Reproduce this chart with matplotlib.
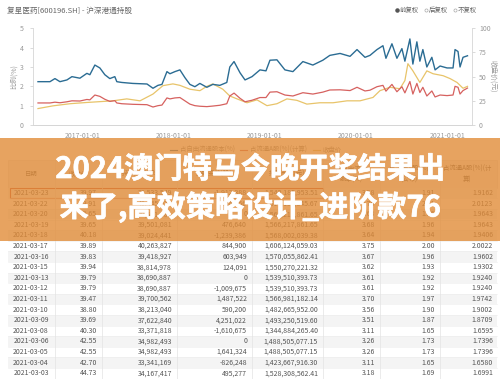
import matplotlib
matplotlib.use('Agg')
import matplotlib.pyplot as plt
import matplotlib.dates as mdates
import matplotlib.patheffects as pe
from matplotlib.patches import Rectangle
import pandas as pd

plt.rcParams['font.family'] = ['Noto Sans CJK SC', 'DejaVu Sans']

# ---- 图表数据（从截图估读） ----
TITLE = '复星医药[600196.SH] - 沪深港通持股'
ratio_dates = [
    '2016-07-05', '2016-08-22', '2016-09-11', '2016-10-01', '2016-10-29', '2016-11-18',
    '2016-12-20', '2017-01-17', '2017-01-29', '2017-02-18', '2017-03-10', '2017-03-30',
    '2017-04-19', '2017-05-09', '2017-05-17', '2017-06-06', '2017-07-20', '2017-09-15',
    '2017-10-09', '2017-10-29', '2017-11-14', '2017-12-04', '2017-12-16', '2018-01-05',
    '2018-01-25', '2018-02-14', '2018-03-06', '2018-03-26', '2018-04-15', '2018-05-13',
    '2018-06-06', '2018-07-04', '2018-08-01', '2018-08-13', '2018-08-30', '2018-09-23',
    '2018-10-13', '2018-11-10', '2018-12-12', '2019-01-05', '2019-01-21', '2019-02-18',
    '2019-03-22', '2019-04-23', '2019-06-02', '2019-07-12', '2019-08-21', '2019-09-18',
    '2019-10-29', '2019-12-08', '2020-01-05', '2020-02-06', '2020-02-26', '2020-03-25',
    '2020-04-18', '2020-04-30', '2020-05-24', '2020-06-13', '2020-07-03', '2020-07-15',
    '2020-08-04', '2020-08-16', '2020-09-01', '2020-09-13', '2020-09-25', '2020-10-11',
    '2020-10-31', '2020-11-13', '2020-12-03', '2020-12-31', '2021-01-24', '2021-02-01',
    '2021-02-13', '2021-02-21', '2021-03-05', '2021-03-23',
]
free_float_pct = [
    2.24, 2.24, 2.40, 2.24, 2.33, 2.50, 2.42, 2.67, 2.60, 3.10, 2.95, 2.60,
    2.40, 2.50, 2.24, 2.20, 2.15, 2.12, 1.90, 2.05, 2.10, 2.76, 2.65, 2.76,
    2.85, 2.45, 2.10, 1.98, 2.15, 1.95, 2.10, 2.05, 2.20, 3.00, 3.28, 2.70,
    2.33, 2.50, 2.85, 2.80, 3.35, 3.37, 2.85, 2.76, 3.28, 3.10, 3.35, 3.60,
    3.70, 3.55, 3.90, 3.50, 3.60, 3.90, 4.10, 3.45, 4.20, 3.45, 3.95, 3.30,
    4.45, 3.15, 4.30, 3.30, 3.90, 3.00, 3.50, 2.85, 3.05, 2.95, 2.95, 3.90,
    3.80, 3.00, 3.50, 3.58,
]
a_share_pct = [
    1.14, 1.14, 1.18, 1.15, 1.20, 1.25, 1.24, 1.32, 1.30, 1.55, 1.48, 1.33,
    1.22, 1.26, 1.14, 1.10, 1.07, 1.05, 0.93, 1.00, 1.03, 1.40, 1.35, 1.40,
    1.42, 1.25, 1.08, 1.00, 0.97, 0.95, 0.98, 1.02, 1.10, 1.50, 1.65, 1.38,
    1.20, 1.28, 1.42, 1.42, 1.70, 1.72, 1.55, 1.50, 1.67, 1.60, 1.70, 1.81,
    1.82, 1.78, 1.95, 1.76, 1.80, 1.98, 2.05, 1.75, 2.10, 1.72, 1.98, 1.66,
    2.25, 1.60, 2.15, 1.68, 1.95, 1.50, 1.76, 1.45, 1.55, 1.52, 1.55, 2.00,
    1.95, 1.60, 1.78, 1.91,
]
price_dates = [
    '2016-07-05', '2016-09-03', '2016-11-10', '2017-01-17', '2017-05-01', '2017-06-26',
    '2017-08-18', '2017-10-09', '2017-11-18', '2017-12-28', '2018-01-25', '2018-03-06',
    '2018-04-15', '2018-05-13', '2018-06-06', '2018-07-16', '2018-08-13', '2018-09-11',
    '2018-10-21', '2018-11-30', '2019-01-09', '2019-02-18', '2019-03-30', '2019-05-09',
    '2019-06-18', '2019-08-09', '2019-10-01', '2019-11-26', '2020-01-17', '2020-03-09',
    '2020-04-06', '2020-05-16', '2020-06-25', '2020-07-15', '2020-07-27', '2020-08-16',
    '2020-09-13', '2020-10-11', '2020-11-05', '2020-12-15', '2021-01-12', '2021-02-09',
    '2021-03-05', '2021-03-23',
]
close_price = [
    17.0, 19.8, 22.0, 23.3, 25.0, 27.0, 25.0, 32.0, 40.7, 42.5, 41.0, 37.0,
    35.5, 40.0, 42.5, 37.0, 30.0, 27.0, 23.0, 26.0, 20.0, 22.0, 27.0, 25.5,
    21.6, 23.0, 23.0, 25.0, 25.0, 28.5, 35.5, 39.0, 37.5, 46.0, 63.4, 56.0,
    44.0, 56.0, 53.0, 51.0, 48.0, 44.0, 38.0, 39.97,
]
x_ticks = ['2017-01-01', '2018-01-01', '2019-01-01', '2020-01-01', '2021-01-01']
series_names = ['占自由流通股本(%)', '占流通A股(%)(计算)', '收盘价']
series_colors = ['#2b6c93', '#d6615f', '#e8c46a']

# ---- 表格数据 ----
headers = ['日期', '收盘价', '持股数量(股)', '持股变动(股)', '持股市值(元)',
           '占自由流通\n股本(%)', '占流通A股(%)\n(公布)', '占流通A股(%)(计\n算)']
t_date = ['2021-03-23', '2021-03-22', '2021-03-20', '2021-03-19', '2021-03-18', '2021-03-17',
          '2021-03-16', '2021-03-15', '2021-03-13', '2021-03-12', '2021-03-11', '2021-03-10',
          '2021-03-09', '2021-03-08', '2021-03-06', '2021-03-05', '2021-03-04', '2021-03-03']
t_close = ['39.97', '39.91', '39.65', '39.65', '40.18', '39.89', '39.83', '39.94', '39.79',
           '39.79', '39.47', '38.80', '39.69', '40.30', '42.55', '42.55', '42.70', '44.73']
t_shares = ['38,533,549', '40,445,937', '39,501,081', '39,501,081', '39,024,441', '40,263,827',
            '39,418,927', '38,814,978', '38,690,887', '38,690,887', '39,700,562', '38,213,040',
            '37,622,840', '33,371,818', '34,982,493', '34,982,493', '33,341,169', '34,167,417']
t_change = ['-1,912,388', '944,856', '0', '476,640', '-1,239,386', '844,900', '603,949',
            '124,091', '0', '-1,009,675', '1,487,522', '590,200', '4,251,022', '-1,610,675',
            '0', '1,641,324', '-826,248', '495,277']
t_value = ['1,540,185,953.51', '1,614,197,345.67', '1,566,217,861.65', '1,566,217,861.65',
           '1,568,002,039.38', '1,606,124,059.03', '1,570,055,862.41', '1,550,270,221.32',
           '1,539,510,393.73', '1,539,510,393.73', '1,566,981,182.14', '1,482,665,952.00',
           '1,493,250,519.60', '1,344,884,265.40', '1,488,505,077.15', '1,488,505,077.15',
           '1,423,667,916.30', '1,528,308,562.41']
t_free = ['3.58', '3.76', '3.68', '3.68', '3.64', '3.75', '3.67', '3.62', '3.61', '3.61',
          '3.70', '3.56', '3.51', '3.11', '3.26', '3.26', '3.11', '3.18']
t_a_pub = ['1.91', '2.01', '1.96', '1.96', '1.94', '2.00', '1.96', '1.93', '1.92', '1.92',
           '1.97', '1.90', '1.87', '1.65', '1.73', '1.73', '1.65', '1.69']
t_a_calc = ['1.9162', '2.0123', '1.9643', '1.9643', '1.9406', '2.0022', '1.9602', '1.9302',
            '1.9240', '1.9240', '1.9742', '1.9002', '1.8709', '1.6595', '1.7396', '1.7396',
            '1.6580', '1.6991']

BANNER = ['2024澳门特马今晚开奖结果出', '来了,高效策略设计_进阶款76']

W, H = 500, 379
fig = plt.figure(figsize=(W / 100, H / 100), dpi=100)
fig.patch.set_facecolor('white')


def fx(px):
    return px / W


def fy(py):
    return 1 - py / H


# ---- 折线图 ----
ax = fig.add_axes([fx(33), fy(125), fx(472) - fx(33), fy(28.3) - fy(125)])
axr = ax.twinx()
rd = pd.to_datetime(ratio_dates)
pdts = pd.to_datetime(price_dates)
axr.plot(pdts, close_price, color=series_colors[2], lw=0.9)
ax.plot(rd, a_share_pct, color=series_colors[1], lw=0.9)
ax.plot(rd, free_float_pct, color=series_colors[0], lw=1.0)
ax.set_zorder(axr.get_zorder() + 1)
ax.patch.set_visible(False)

ax.set_xlim(pd.Timestamp('2016-06-15'), pd.Timestamp('2021-04-10'))
ax.set_ylim(0, 5)
axr.set_ylim(0, 100)
ax.set_yticks(range(6))
axr.set_yticks([0, 25, 50, 75, 100])
ax.set_xticks(pd.to_datetime(x_ticks))
ax.xaxis.set_major_formatter(mdates.DateFormatter('%Y-%m-%d'))

for a in (ax, axr):
    for s in a.spines.values():
        s.set_color('#d6d6d6')
        s.set_linewidth(0.6)
    a.spines['top'].set_visible(False)
ax.spines['right'].set_visible(False)
axr.spines['left'].set_visible(False)
ax.tick_params(axis='y', labelsize=5, length=2, width=0.5, pad=5, color='#cccccc')
axr.tick_params(axis='y', labelsize=5, length=2, width=0.5, pad=3, color='#cccccc')
ax.tick_params(axis='x', labelsize=5, length=0, pad=5)
for lbl in ax.get_xticklabels() + ax.get_yticklabels() + axr.get_yticklabels():
    lbl.set_color('#999999')
ax.set_ylabel('比例(%)', fontsize=5, color='#999999', labelpad=1)
axr.set_ylabel('收盘价(元)', fontsize=5, color='#999999', rotation=270, labelpad=5)

# ---- 叠加层：标题、表格、横幅 ----
ov = fig.add_axes([0, 0, 1, 1])
ov.set_xlim(0, W)
ov.set_ylim(H, 0)
ov.axis('off')
ov.patch.set_alpha(0)

ov.text(7, 11, TITLE, fontsize=5.5, color='#666666', va='center', ha='left')
for i, (lab, cx) in enumerate(zip(['前复权', '后复权', '不复权'], [397, 426, 455])):
    if i == 0:
        ov.scatter([cx], [9.5], s=5, color='#555555', zorder=3)
    else:
        ov.scatter([cx], [9.5], s=5, facecolor='white', edgecolor='#aaaaaa', lw=0.5, zorder=3)
    ov.text(cx + 3, 9.5, lab, fontsize=4.6, color='#666666', va='center', ha='left')

# 图例（在遮罩下）
for name, col, lx in zip(series_names, series_colors, [170, 240, 313]):
    ov.plot([lx, lx + 7], [150, 150], color=col, lw=0.8)
    ov.text(lx + 10, 150, name, fontsize=4.6, color='#888888', va='center', ha='left')

# 表头
ov.add_patch(Rectangle((8, 160), 489, 28, facecolor='#f3f3f3', edgecolor='#e2e2e2', lw=0.5))
head_x = [31, 78, 140, 214, 287, 351, 409, 467]
for htxt, hx in zip(headers, head_x):
    ov.text(hx, 174, htxt, fontsize=4.6, color='#555555', ha='center', va='center',
            linespacing=1.5)

row_y0, row_h = 193, 10.6
cols = [t_close, t_shares, t_change, t_value, t_free, t_a_pub, t_a_calc]
col_right = [97, 172, 247, 318, 375, 435, 493]
for i, d in enumerate(t_date):
    y = row_y0 + i * row_h
    if i % 2 == 0:
        ov.add_patch(Rectangle((8, y - row_h / 2), 489, row_h, facecolor='#f4f4f4',
                               edgecolor='none'))
    ov.plot([8, 497], [y + row_h / 2, y + row_h / 2], color='#ececec', lw=0.4)
    ov.text(31, y, d, fontsize=5, color='#555555', ha='center', va='center')
    for vals, xr in zip(cols, col_right):
        ov.text(xr, y, vals[i], fontsize=5, color='#555555', ha='right', va='center')
for sx in [55, 102, 177, 252, 323, 380, 440]:
    ov.plot([sx, sx], [160, H], color='#e3e3e3', lw=0.5)
ov.add_patch(Rectangle((10, row_y0 - 5.2), 313, 10.4, facecolor='none',
                       edgecolor='#c8503a', lw=0.8))

# 橙色遮罩与大字
ov.add_patch(Rectangle((0, 138), W, 103, facecolor='#e18c38', edgecolor='none',
                       alpha=0.8, zorder=5))
for k, line in enumerate(BANNER):
    ov.text(250, 169 + k * 38, line, fontsize=21, fontweight='bold', color='white',
            ha='center', va='center', zorder=6,
            path_effects=[pe.withStroke(linewidth=0.5, foreground='white')])

fig.savefig('out.png', dpi=100)
